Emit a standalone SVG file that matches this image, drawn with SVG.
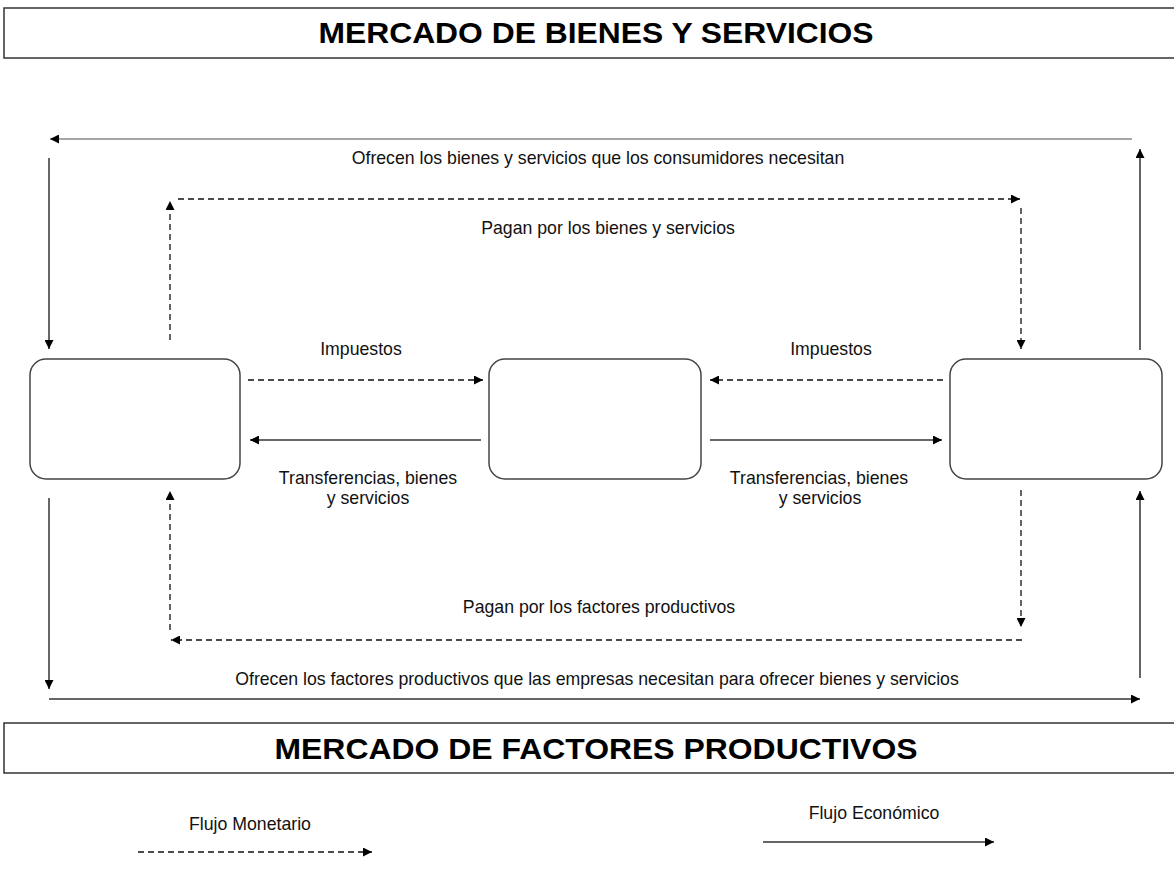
<svg xmlns="http://www.w3.org/2000/svg" width="1174" height="874" viewBox="0 0 1174 874">
<defs>
<style>
.hdr{fill:#fff;stroke:#333;stroke-width:1.5}
.title{font-family:"Liberation Sans",Arial,sans-serif;font-weight:bold;font-size:30px;fill:#000;text-anchor:middle}
.lbl{font-family:"Liberation Sans",Arial,sans-serif;font-size:17.7px;fill:#111;text-anchor:middle}
.node{fill:#fff;stroke:#444;stroke-width:1.5}
.solid{fill:none;stroke:#333;stroke-width:1.5;marker-end:url(#ah)}
.dash{fill:none;stroke:#111;stroke-width:1.3;stroke-dasharray:6 4;marker-end:url(#ah)}
</style>
<marker id="ah" viewBox="0 0 10 10" refX="10" refY="5" markerWidth="10" markerHeight="9" markerUnits="userSpaceOnUse" orient="auto">
<path d="M0,0 L10,5 L0,10 Z" fill="#000"/>
</marker>
</defs>
<rect width="1174" height="874" fill="#fff"/>
<g id="mercado-bienes">
<rect class="hdr" x="4" y="8" width="1180" height="50"/>
<text class="title" x="596" y="43" textLength="555" lengthAdjust="spacingAndGlyphs">MERCADO DE BIENES Y SERVICIOS</text>
</g>
<g id="mercado-factores">
<rect class="hdr" x="4" y="723" width="1180" height="50"/>
<text class="title" x="596" y="759" textLength="643" lengthAdjust="spacingAndGlyphs">MERCADO DE FACTORES PRODUCTIVOS</text>
</g>
<g id="node-left"><rect class="node" x="30" y="359" width="210" height="120" rx="16"/></g>
<g id="node-middle"><rect class="node" x="489" y="359" width="212" height="120" rx="16"/></g>
<g id="node-right"><rect class="node" x="950" y="359" width="212" height="120" rx="16"/></g>
<g id="connectors">
<path class="solid" d="M1132,139 H50" style="stroke:#888"/>
<path class="solid" d="M49,158 V349"/>
<path class="dash" d="M170,340 V201"/>
<path class="dash" d="M178,199 H1020"/>
<path class="dash" d="M1021,208 V349"/>
<path class="solid" d="M1140,350 V149"/>
<path class="dash" d="M248,380 H483"/>
<path class="solid" d="M481,440 H250"/>
<path class="dash" d="M943,380 H710"/>
<path class="solid" d="M710,440 H942"/>
<path class="solid" d="M49,498 V689"/>
<path class="dash" d="M170,630 V491"/>
<path class="dash" d="M1021,490 V627"/>
<path class="dash" d="M1022,640 H171"/>
<path class="solid" d="M1140,678 V491"/>
<path class="solid" d="M49,699 H1140"/>
</g>
<g id="labels">
<text class="lbl" x="598" y="164">Ofrecen los bienes y servicios que los consumidores necesitan</text>
<text class="lbl" x="608" y="234">Pagan por los bienes y servicios</text>
<text class="lbl" x="361" y="355">Impuestos</text>
<text class="lbl" x="831" y="355">Impuestos</text>
<text class="lbl" x="368" y="484">Transferencias, bienes</text>
<text class="lbl" x="368" y="504">y servicios</text>
<text class="lbl" x="819" y="484">Transferencias, bienes</text>
<text class="lbl" x="820" y="504">y servicios</text>
<text class="lbl" x="599" y="613">Pagan por los factores productivos</text>
<text class="lbl" x="597" y="685">Ofrecen los factores productivos que las empresas necesitan para ofrecer bienes y servicios</text>
</g>
<g id="legend">
<text class="lbl" x="250" y="830">Flujo Monetario</text>
<path class="dash" d="M138,852 H372"/>
<text class="lbl" x="874" y="819">Flujo Económico</text>
<path class="solid" d="M763,842 H994"/>
</g>
</svg>
